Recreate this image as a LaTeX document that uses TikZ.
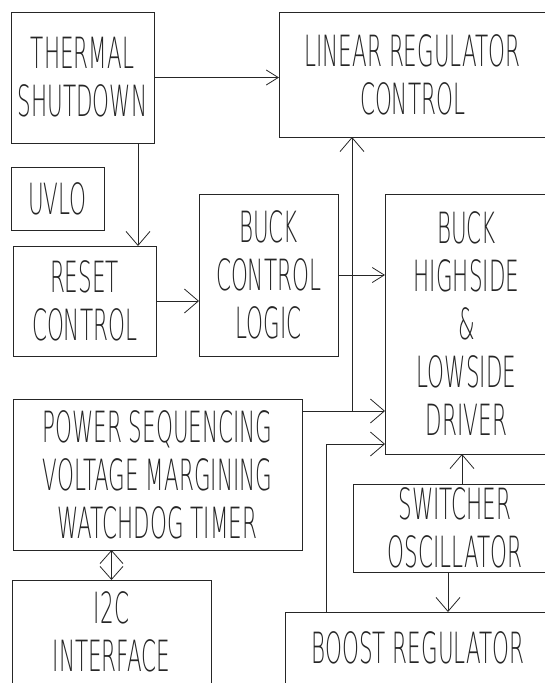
\documentclass[tikz,border=0pt]{standalone}
\usepackage{fontspec}
\newfontfamily\cadfont{DejaVu Sans ExtraLight}[FakeStretch=0.5]
\usetikzlibrary{arrows.meta,calc}

\tikzset{
  blk/.style={draw, inner sep=0pt, outer sep=0pt, align=center,
    font=\cadfont\fontsize{43}{48}\selectfont},
  arr/.style={-{Straight Barb[length=14pt,width=24pt]}},
  sarr/.style={-{Straight Barb[length=12pt,width=15pt]}},
}

\begin{document}
\begin{tikzpicture}[x=1pt, y=-1pt, line width=0.8pt, color=black!85]
\useasboundingbox (0,0) rectangle (545,683);
% --- Left column ---
\node[blk, minimum width=143pt, minimum height=131pt] (thermal) at (82.5,77.5)
  {THERMAL\\SHUTDOWN};
\node[blk, minimum width=93pt, minimum height=63pt] (uvlo) at (57.5,198.5)
  {UVLO};
\node[blk, minimum width=143pt, minimum height=110pt] (reset) at (84.5,301)
  {RESET\\CONTROL};
\node[blk, minimum width=289pt, minimum height=151pt] (power) at (157.5,474.5)
  {POWER SEQUENCING\\VOLTAGE MARGINING\\WATCHDOG TIMER};
\node[blk, minimum width=199pt, minimum height=104pt] (i2c) at (111.5,632)
  {I2C\\INTERFACE};
% --- Middle and right column (boxes run off the right edge) ---
\node[blk, minimum width=139pt, minimum height=162pt] (bcl) at (268.5,275)
  {BUCK\\CONTROL\\LOGIC};
\node[blk, minimum width=267pt, minimum height=125pt] (linear) at (412.5,74.5)
  {LINEAR REGULATOR\\CONTROL};
\node[blk, minimum width=163pt, minimum height=260pt] (driver) at (466.5,324)
  {BUCK\\HIGHSIDE\\\&\\LOWSIDE\\DRIVER};
\node[blk, minimum width=204pt, minimum height=88pt] (osc) at (455,528)
  {SWITCHER\\OSCILLATOR};
\node[blk, minimum width=266pt, minimum height=72pt] (boost) at (418,648)
  {BOOST REGULATOR};

% --- Connections ---
\draw[sarr] (thermal.east) -- (thermal.east -| linear.west);
\coordinate (tdown) at ([xshift=-16pt]thermal.south east);
\draw[arr] (tdown) -- (tdown |- reset.north);
\draw[arr] (reset.east) -- (reset.east -| bcl.west);
\draw[sarr] (bcl.east) -- (bcl.east -| driver.west);
% Power block feeds driver and the bus up to the linear regulator
\coordinate (pout) at ([yshift=-12pt]power.north east);
\coordinate (bus) at (352,411);
\draw[arr] (pout) -- (pout -| driver.west);
\draw[arr] (bus) -- (bus |- linear.south);
% Boost feedback into driver
\coordinate (bfb) at ([xshift=41pt]boost.north west);
\draw[arr] (bfb) |- ([yshift=10pt]driver.south west);
% Oscillator outputs
\coordinate (oup) at ([xshift=109pt]osc.north west);
\draw[arr] (oup) -- (oup |- driver.south);
\coordinate (odn) at ([xshift=95pt]osc.south west);
\draw[arr] (odn) -- (odn |- boost.north);
% I2C link
\draw[{Straight Barb[length=13pt,width=23pt]}-{Straight Barb[length=13pt,width=23pt]}]
  (i2c.north) -- (i2c.north |- power.south);
\end{tikzpicture}
\end{document}
